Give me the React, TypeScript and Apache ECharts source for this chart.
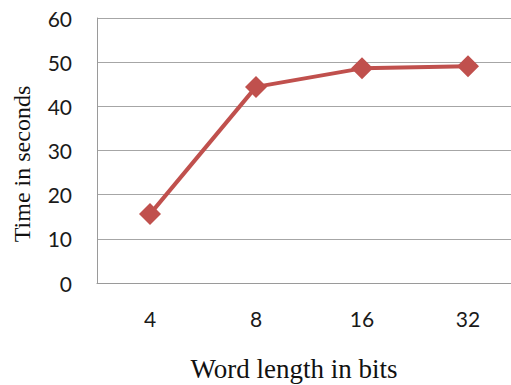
import React, { useEffect, useRef } from "react";
import * as echarts from "echarts";

const categories = ["4", "8", "16", "32"];
const timeSeconds = [15.6, 44.4, 48.6, 49.1];
const yTitle = "Time in seconds";
const xTitle = "Word length in bits";

export default function App() {
  const ref = useRef<HTMLDivElement>(null);
  useEffect(() => {
    document.body.style.margin = "0";
    const chart = echarts.init(ref.current!, null, { renderer: "svg" });
    chart.setOption({
      animation: false,
      backgroundColor: "#ffffff",
      grid: {
        left: 97,
        top: 18,
        width: 424,
        height: 265,
        containLabel: false,
        outerBoundsMode: "none",
      },
      xAxis: {
        type: "category",
        data: categories,
        boundaryGap: true,
        axisLine: { show: true, lineStyle: { color: "#9a9a9a", width: 1 } },
        axisTick: { show: false },
        axisLabel: {
          fontFamily: "Lato",
          fontSize: 21,
          color: "#1a1a1a",
          margin: 25,
        },
        splitLine: { show: false },
      },
      yAxis: {
        type: "value",
        min: 0,
        max: 60,
        interval: 10,
        axisLine: { show: true, lineStyle: { color: "#9a9a9a", width: 1 } },
        axisTick: { show: false },
        axisLabel: {
          fontFamily: "Lato",
          fontSize: 21,
          color: "#1a1a1a",
          margin: 25,
        },
        splitLine: { show: true, lineStyle: { color: "#a6a6a6", width: 1 } },
      },
      graphic: [
        {
          type: "text",
          x: 22,
          y: 164,
          rotation: Math.PI / 2,
          style: {
            text: yTitle,
            fontFamily: "Liberation Serif",
            fontSize: 24,
            fill: "#111",
            align: "center",
            verticalAlign: "middle",
          },
        },
        {
          type: "text",
          x: 294,
          y: 369,
          style: {
            text: xTitle,
            fontFamily: "Liberation Serif",
            fontSize: 27,
            fill: "#111",
            align: "center",
            verticalAlign: "middle",
          },
        },
      ],
      series: [
        {
          type: "line",
          data: timeSeconds,
          symbol: "diamond",
          symbolSize: 22,
          lineStyle: { color: "#C0504D", width: 4 },
          itemStyle: { color: "#C0504D" },
        },
      ],
    });
    return () => chart.dispose();
  }, []);
  return <div ref={ref} style={{ width: 511, height: 385 }} />;
}
